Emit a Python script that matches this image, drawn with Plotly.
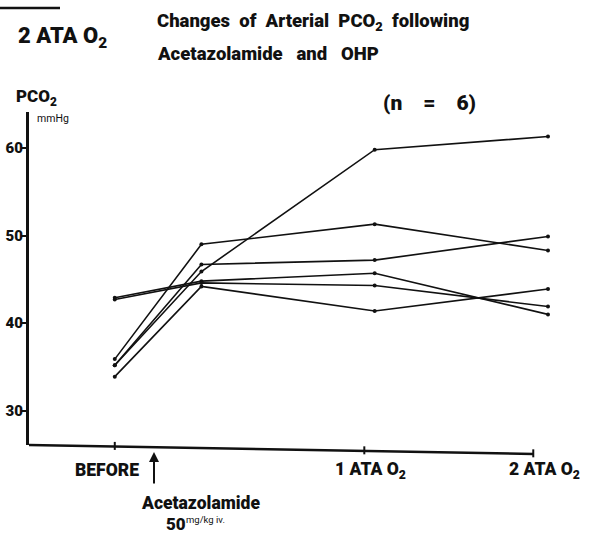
import plotly.graph_objects as go

# ---- data ----
x_pos = [0, 1, 3, 5]  # BEFORE, after Acetazolamide, 1 ATA O2, 2 ATA O2
subj_a = [35.2, 45.9, 59.8, 61.3]
subj_b = [35.9, 49.0, 51.3, 48.3]
subj_c = [35.2, 46.7, 47.2, 49.9]
subj_d = [42.9, 44.8, 45.7, 41.0]
subj_e = [42.7, 44.6, 44.3, 41.9]
subj_f = [33.9, 44.2, 41.4, 43.9]
subjects = [subj_a, subj_b, subj_c, subj_d, subj_e, subj_f]
y_tickvals = [30, 40, 50, 60]
x_tick_pos = [0, 2.88, 4.83]
x_ticklabels = ["BEFORE", "1 ATA O<sub>2</sub>", "2 ATA O<sub>2</sub>"]

# ---- layout constants ----
W, H = 595, 534
L, R, T, B = 29, 47, 112, 89
PW, PH = W - L - R, H - T - B
FONT = "Roboto, Liberation Sans, sans-serif"
INK = "#111111"
HEAVY = 900


def px(x):
    return (x - L) / PW


def py(y):
    return (H - B - y) / PH


fig = go.Figure()
for s in subjects:
    fig.add_trace(go.Scatter(
        x=x_pos, y=s, mode="lines+markers",
        line=dict(color=INK, width=1.6),
        marker=dict(color=INK, size=4),
        cliponaxis=False, showlegend=False, hoverinfo="skip"))

shapes = []
# x axis line (hand drawn, slightly tilted)
x_axis_left, x_axis_right = -1.02, 4.83
tilt = -0.027
shapes.append(dict(type="line", xref="x", yref="paper",
                   x0=x_axis_left, y0=0, x1=x_axis_right, y1=tilt,
                   line=dict(color=INK, width=2.5)))
for tp in x_tick_pos:
    yc = tilt * (tp - x_axis_left) / (x_axis_right - x_axis_left)
    shapes.append(dict(type="line", xref="x", yref="paper",
                       x0=tp, y0=yc - 0.01, x1=tp, y1=yc + 0.014,
                       line=dict(color=INK, width=2)))
# short rule at top-left corner
shapes.append(dict(type="line", xref="paper", yref="paper",
                   x0=px(0), y0=py(8), x1=px(60), y1=py(8),
                   line=dict(color=INK, width=2.5)))

ann = []


def text(s, x, y, size, xanchor="left", weight=HEAVY):
    ann.append(dict(text=s, xref="paper", yref="paper", x=px(x), y=py(y),
                    xanchor=xanchor, yanchor="middle", showarrow=False,
                    font=dict(family=FONT, size=size, color=INK,
                              weight=weight)))


text("2 ATA O<sub>2</sub>", 16, 38, 22)
text("Changes  of  Arterial  PCO<sub>2</sub>  following", 155, 22, 18.5)
text("Acetazolamide   and   OHP", 155, 54, 18.5)
text("PCO<sub>2</sub>", 14, 97, 17)
text("mmHg", 35, 118, 10.5, weight="normal")
text("(n    =    6)", 381, 103, 21)
for lbl, cx in zip(x_ticklabels, [107, 370, 544]):
    text(lbl, cx, 470, 17.5, xanchor="center")
text("Acetazolamide", 200, 503, 17.5, xanchor="center")
text("50", 164, 524, 17)
text("mg/kg iv.", 184, 519, 9.5, weight="normal")

# arrow (Acetazolamide injection)
ann.append(dict(text="", xref="paper", yref="paper", x=px(154), y=py(452),
                showarrow=True, ax=0, ay=33, arrowhead=2, arrowsize=1,
                arrowwidth=2, arrowcolor=INK))

fig.update_layout(
    width=W, height=H,
    margin=dict(l=L, r=R, t=T, b=B, autoexpand=False),
    paper_bgcolor="white", plot_bgcolor="white",
    shapes=shapes, annotations=ann,
    xaxis=dict(range=[-0.99, 5.0], showline=False, showgrid=False,
               zeroline=False, showticklabels=False, ticks="",
               automargin=False),
    yaxis=dict(range=[26.1, 64.1], showline=True, linecolor=INK, linewidth=3,
               showgrid=False, zeroline=False, tickvals=y_tickvals,
               ticks="outside", ticklen=5, tickwidth=2, tickcolor=INK,
               automargin=False, ticklabelstandoff=-5,
               tickfont=dict(family=FONT, size=15, color=INK, weight=HEAVY)),
)

fig.write_html("out.html")
